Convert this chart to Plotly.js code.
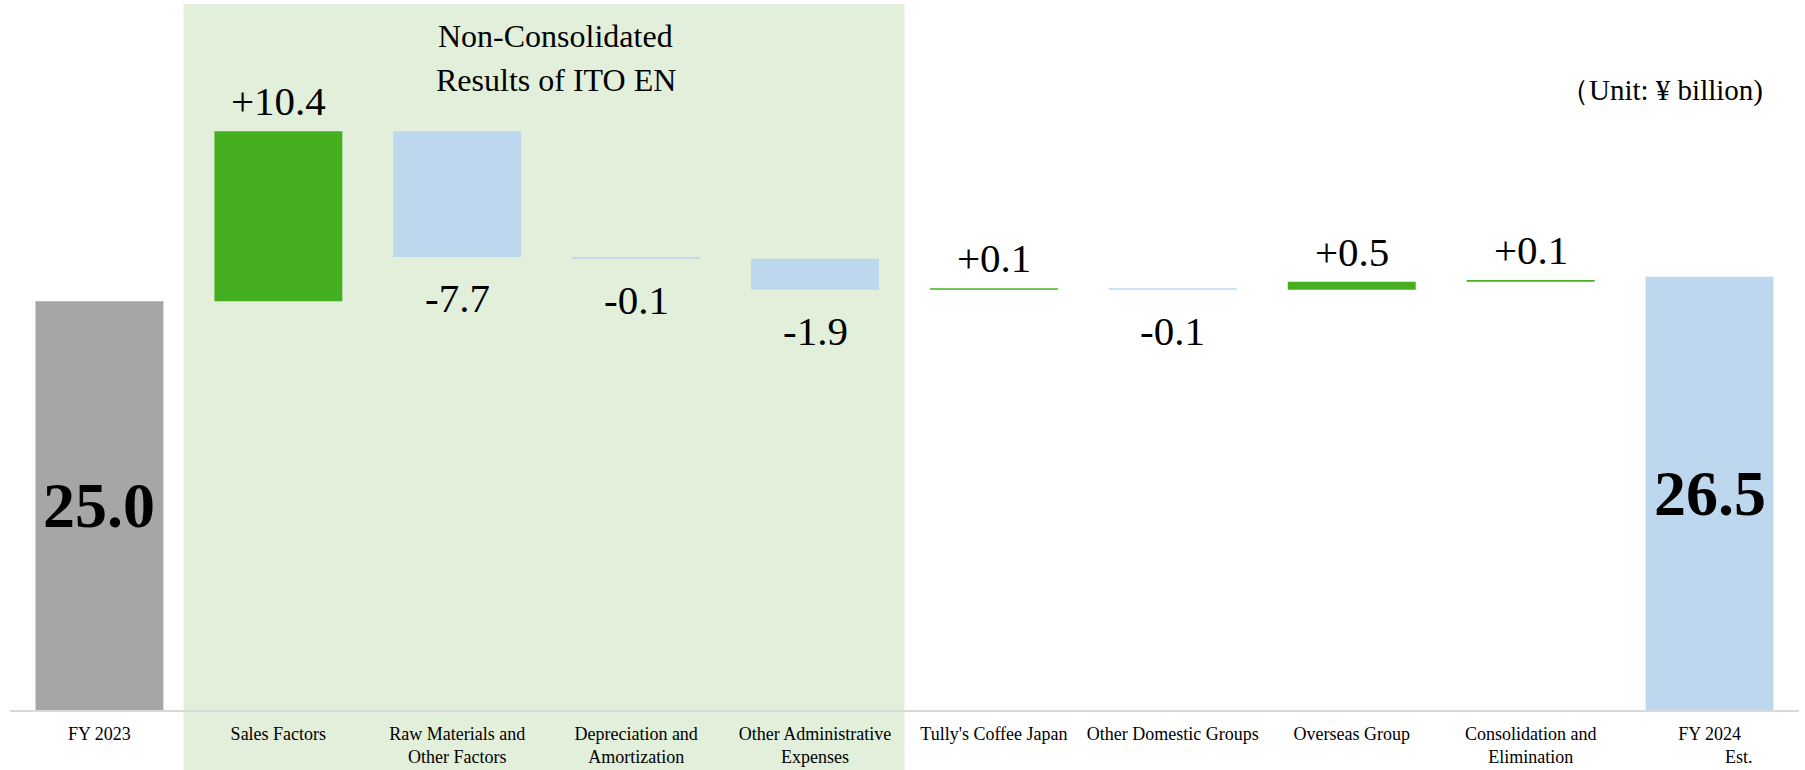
<!DOCTYPE html>
<html>
<head>
<meta charset="utf-8">
<script src="https://cdn.plot.ly/plotly-3.0.1.min.js"></script>
<style>
  html, body { margin: 0; padding: 0; background: #ffffff; }
  #chart { width: 1805px; height: 770px; }
</style>
</head>
<body>
<div id="chart"></div>
<script>
// ---- data ----
const categories = ["FY 2023", "Sales Factors", "Raw Materials and Other Factors",
  "Depreciation and Amortization", "Other Administrative Expenses", "Tully's Coffee Japan",
  "Other Domestic Groups", "Overseas Group", "Consolidation and Elimination", "FY 2024 Est."];
const tickLabels = ["FY 2023", "Sales Factors", "Raw Materials and<br>Other Factors",
  "Depreciation and<br>Amortization", "Other Administrative<br>Expenses", "Tully's Coffee Japan",
  "Other Domestic Groups", "Overseas Group", "Consolidation and<br>Elimination",
  "FY 2024<br>" + "\u00a0".repeat(13) + "Est."];
const measures = ["absolute", "relative", "relative", "relative", "relative",
  "relative", "relative", "relative", "relative", "total"];
const values = [25.0, 10.4, -7.7, -0.1, -1.9, 0.1, -0.1, 0.5, 0.1, 26.5];

const groupTitle = ["Non-Consolidated", "Results of ITO EN"];
const unitText = "\uff08Unit: \u00a5 billion)";

// ---- styles ----
const FONT = "'Times New Roman', 'Liberation Serif', serif";
const C_GREEN = "#45AF1F", C_BLUE = "#BDD7EE", C_GRAY = "#A6A6A6";

// ---- build waterfall geometry from data ----
let running = 0;
const bases = [], heights = [], colors = [], annotations = [];
values.forEach((v, i) => {
  const m = measures[i];
  if (m === "absolute" || m === "total") {
    bases.push(0); heights.push(v); running = v;
    colors.push(m === "absolute" ? C_GRAY : C_BLUE);
    annotations.push({
      x: categories[i], y: v / 2, xref: "x", yref: "y",
      text: "<b>" + v.toFixed(1) + "</b>", showarrow: false,
      yanchor: "middle", font: {family: FONT, size: 64, color: "#000"}
    });
  } else {
    bases.push(running); heights.push(v);
    colors.push(v >= 0 ? C_GREEN : C_BLUE);
    const end = running + v;
    const label = (v >= 0 ? "+" : "") + v.toFixed(1);
    annotations.push({
      x: categories[i], y: end, xref: "x", yref: "y",
      text: label, showarrow: false,
      yanchor: v >= 0 ? "bottom" : "top",
      yshift: v >= 0 ? 5 : -16,
      font: {family: FONT, size: 41, color: "#000"}
    });
    running = end;
  }
});

annotations.push({
  xref: "paper", yref: "paper", x: 0.305, y: 1.031, text: groupTitle[0],
  showarrow: false, xanchor: "center", yanchor: "middle",
  font: {family: FONT, size: 32, color: "#000"}
});
annotations.push({
  xref: "paper", yref: "paper", x: 0.305, y: 0.963, text: groupTitle[1],
  showarrow: false, xanchor: "center", yanchor: "middle",
  font: {family: FONT, size: 32, color: "#000"}
});
annotations.push({
  xref: "paper", yref: "paper", x: 0.981, y: 0.948, text: unitText,
  showarrow: false, xanchor: "right", yanchor: "middle",
  font: {family: FONT, size: 29, color: "#000"}
});

const trace = {
  type: "bar",
  x: categories,
  y: heights,
  base: bases,
  marker: {color: colors, line: {width: 0}},
  hoverinfo: "skip",
  showlegend: false
};

const layout = {
  width: 1805, height: 770,
  margin: {l: 10, r: 6, t: 56, b: 60},
  paper_bgcolor: "#ffffff", plot_bgcolor: "rgba(0,0,0,0)",
  bargap: 0.285,
  showlegend: false,
  font: {family: FONT, color: "#000"},
  xaxis: {
    type: "category",
    tickvals: categories, ticktext: tickLabels,
    tickfont: {family: FONT, size: 18, color: "#000"},
    showline: true, linecolor: "#D9D9D9", linewidth: 2,
    ticks: "", ticklabelstandoff: 6, showgrid: false, zeroline: false,
    range: [-0.5, 9.5], fixedrange: true
  },
  yaxis: {
    range: [0, 40], visible: false, showgrid: false, zeroline: false, fixedrange: true
  },
  shapes: [{
    type: "rect", layer: "below",
    xref: "x", yref: "paper",
    x0: 0.47, x1: 4.5, y0: -0.0917, y1: 1.0795,
    fillcolor: "#E2EFDA", line: {width: 0}
  }],
  annotations: annotations
};

Plotly.newPlot("chart", [trace], layout, {displayModeBar: false, staticPlot: true});
</script>
</body>
</html>
